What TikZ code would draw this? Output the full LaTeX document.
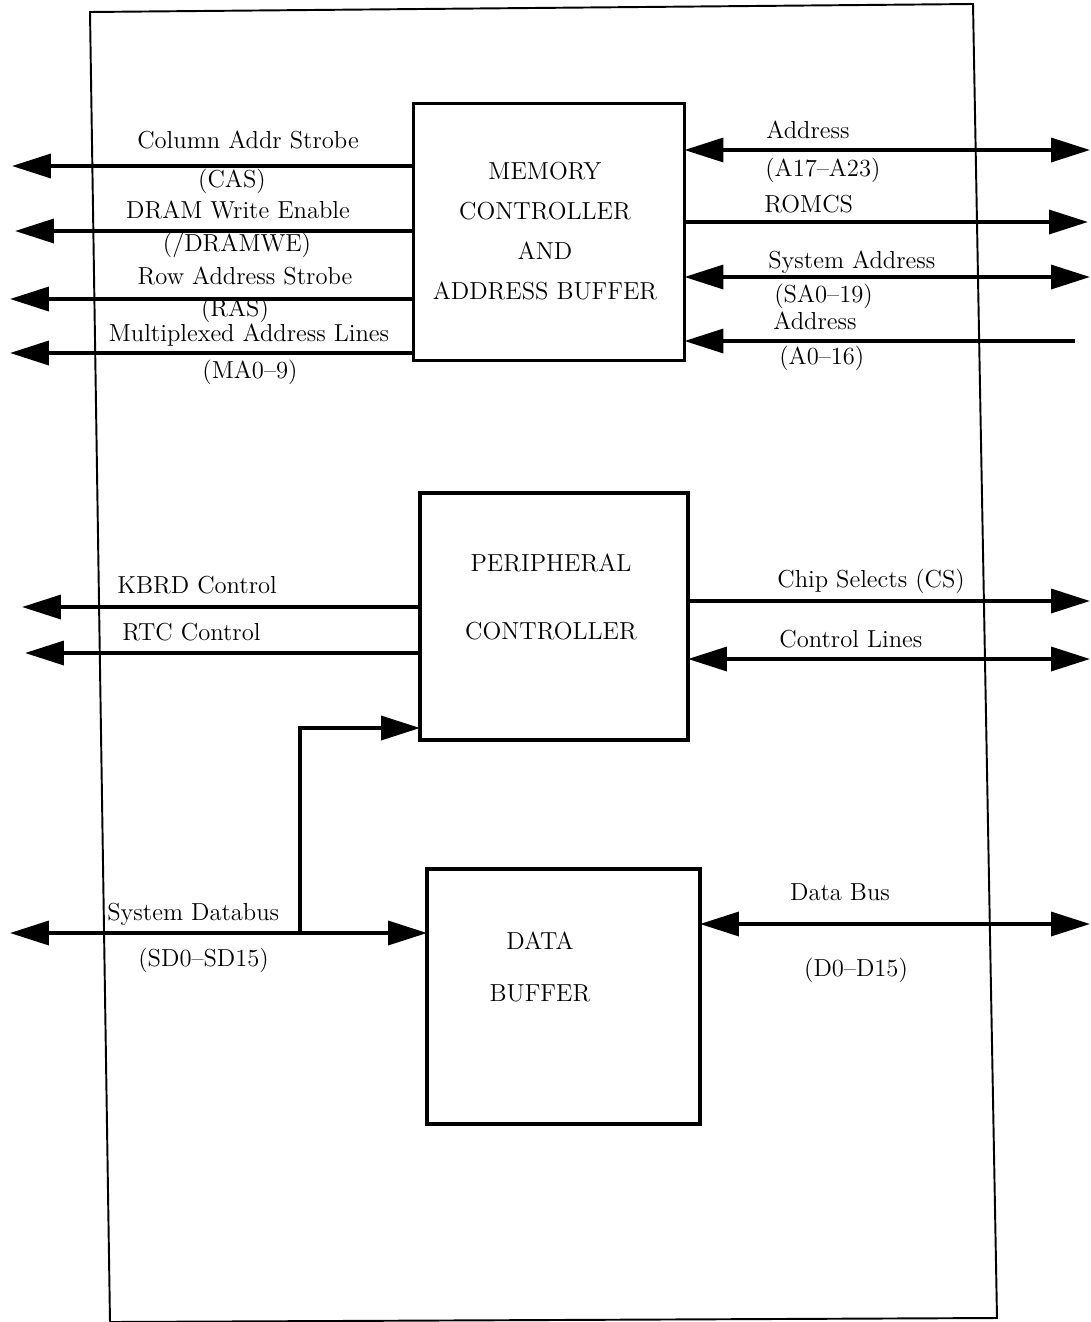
\documentclass[tikz,border=0pt]{standalone}
\usepackage{tikz}
\usetikzlibrary{arrows.meta, positioning, calc}
\tikzset{
	blk/.style    ={rectangle, draw=black, line width=2pt, outer sep=0pt, inner sep=0pt, align=center},
	blktext/.style={align=center, inner sep=0pt, font=\fontsize{14}{22.7}\selectfont},
	lbl/.style    ={inner sep=0pt, font=\fontsize{14}{16}\selectfont},
	sig/.style    ={-{Triangle[length=0.78cm, width=0.48cm]}, line width=2pt},
	bisig/.style  ={{Triangle[length=0.78cm, width=0.48cm]}-{Triangle[length=0.78cm, width=0.48cm]}, line width=2pt},
}
\begin{document}
\begin{tikzpicture}[x=0.02cm, y=-0.02cm]
	\useasboundingbox (0,0) rectangle (1090,1322);
	% outer frame
	\draw[line width=1.1pt] (90,12) -- (973,4) -- (997,1318) -- (110,1322) -- cycle;
	% blocks
	\node[blk, minimum width=5.42cm, minimum height=5.14cm] (mem) at (549,232) {};
	\node[blk, minimum width=5.36cm, minimum height=4.94cm] (per) at (554,616.5) {};
	\node[blk, minimum width=5.46cm, minimum height=5.1cm] (dat) at (563.5,996.5) {};
	\node[blktext] (memT) at (545,231) {MEMORY\\CONTROLLER\\AND\\ADDRESS BUFFER};
	\node[blktext, font=\fontsize{14}{39}\selectfont] (perT) at (551,597) {PERIPHERAL\\CONTROLLER};
	\node[blktext, font=\fontsize{14}{29.5}\selectfont] (datT) at (540,967) {DATA\\BUFFER};
	% memory controller, left side
	\coordinate (casEnd) at (12,166);
	\coordinate (weEnd) at (15,231);
	\coordinate (rasEnd) at (10,299);
	\coordinate (maEnd) at (10,353);
	\draw[sig] (mem.west |- casEnd) -- (casEnd);
	\draw[sig] (mem.west |- weEnd) -- (weEnd);
	\draw[sig] (mem.west |- rasEnd) -- (rasEnd);
	\draw[sig] (mem.west |- maEnd) -- (maEnd);
	\node[lbl] (casL) at (248,140) {Column Addr Strobe};
	\node[lbl] (casS) at (232,181) {(CAS)};
	\node[lbl] (weL) at (238,210) {DRAM Write Enable};
	\node[lbl] (weS) at (237,245) {(/DRAMWE)};
	\node[lbl] (rasL) at (245,276) {Row Address Strobe};
	\node[lbl] (rasS) at (235,310) {(RAS)};
	\node[lbl] (maL) at (249,335) {Multiplexed Address Lines};
	\node[lbl] (maS) at (250,372) {(MA0--9)};
	% memory controller, right side
	\coordinate (hiEnd) at (1090,150);
	\coordinate (romEnd) at (1088,222);
	\coordinate (saEnd) at (1090,277);
	\coordinate (loStart) at (1075,341);
	\draw[bisig] (mem.east |- hiEnd) -- (hiEnd);
	\draw[sig] (mem.east |- romEnd) -- (romEnd);
	\draw[bisig] (mem.east |- saEnd) -- (saEnd);
	\draw[sig] (loStart) -- (mem.east |- loStart);
	\node[lbl, anchor=west] (hiL) at (766,130) {Address};
	\node[lbl, anchor=west] (hiS) at (765,170) {(A17--A23)};
	\node[lbl, anchor=west] (romL) at (764,204) {ROMCS};
	\node[lbl, anchor=west] (saL) at (768,262) {System Address};
	\node[lbl, anchor=west] (saS) at (774,296) {(SA0--19)};
	\node[lbl, anchor=west] (loL) at (773,321) {Address};
	\node[lbl, anchor=west] (loS) at (779,358) {(A0--16)};
	% peripheral controller
	\coordinate (kbEnd) at (22,607);
	\coordinate (rtcEnd) at (25,653);
	\coordinate (csEnd) at (1090,601);
	\coordinate (clEnd) at (1090,659);
	\draw[sig] (per.west |- kbEnd) -- (kbEnd);
	\draw[sig] (per.west |- rtcEnd) -- (rtcEnd);
	\draw[sig] (per.east |- csEnd) -- (csEnd);
	\draw[bisig] (per.east |- clEnd) -- (clEnd);
	\node[lbl, anchor=west] (kbL) at (117,585) {KBRD Control};
	\node[lbl, anchor=west] (rtcL) at (122,632) {RTC Control};
	\node[lbl, anchor=west] (csL) at (777,581) {Chip Selects (CS)};
	\node[lbl, anchor=west] (clL) at (779,639) {Control Lines};
	% data buffer
	\coordinate (sdEnd) at (10,933);
	\coordinate (tap) at (300,933);
	\coordinate (bend) at (300,728);
	\coordinate (dbEnd) at (1090,924);
	\draw[bisig] (sdEnd) -- (dat.west |- sdEnd);
	\draw[sig] (tap) -- (bend) -- (per.west |- bend);
	\draw[bisig] (dat.east |- dbEnd) -- (dbEnd);
	\node[lbl, anchor=west] (sdL) at (107,914) {System Databus};
	\node[lbl, anchor=west] (sdS) at (138,960) {(SD0--SD15)};
	\node[lbl] (dbL) at (840,892) {Data Bus};
	\node[lbl] (dbS) at (856,970) {(D0--D15)};
\end{tikzpicture}
\end{document}
